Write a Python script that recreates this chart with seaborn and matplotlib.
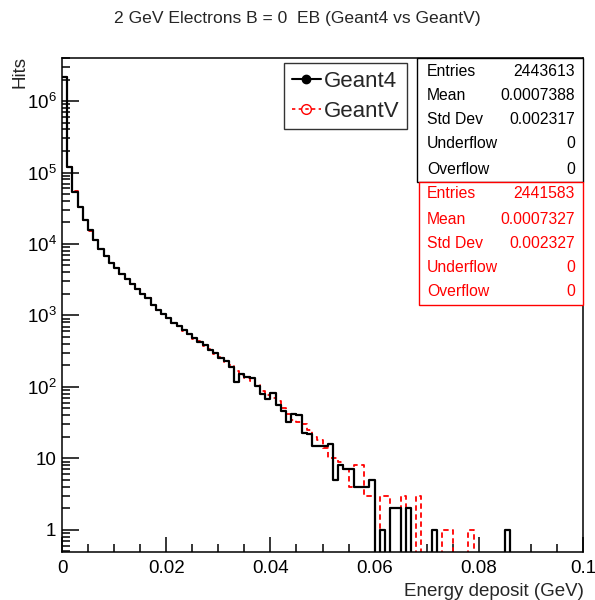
import numpy as np
import pandas as pd
import matplotlib
matplotlib.use('Agg')

import matplotlib.pyplot as plt
import seaborn as sns
from matplotlib.lines import Line2D
from matplotlib.patches import Rectangle
from matplotlib.ticker import FixedLocator, MultipleLocator, FuncFormatter, NullFormatter

# 100 bins of 1 MeV between 0 and 0.1 GeV
bin_width = 0.001
x_range = (0.0, 0.1)

geant4_hits = [
    2190000, 120000, 53700, 33100, 21400, 15500, 11200, 8510, 6760, 5500,
    4570, 3800, 3240, 2750, 2340, 2000, 1740, 1410, 1175, 1050,
    912, 794, 708, 617, 550, 479, 427, 380, 331, 295,
    257, 229, 191, 117, 151, 138, 132, 102, 79, 68,
    83, 56, 46, 32, 42, 40, 23, 22, 15, 15,
    15, 16, 5, 8, 7, 7, 4, 4, 4, 5,
    0, 1, 0, 2, 2, 0, 2, 0, 0, 0,
    0, 1, 0, 0, 0, 0, 0, 0, 0, 0,
    0, 0, 0, 0, 0, 1, 0, 0, 0, 0,
    0, 0, 0, 0, 0, 0, 0, 0, 0, 0,
]

geantv_hits = [
    2200000, 118000, 54500, 32600, 21800, 15200, 11400, 8400, 6850, 5420,
    4620, 3760, 3280, 2710, 2370, 1980, 1760, 1400, 1190, 1040,
    925, 785, 715, 610, 556, 472, 432, 376, 335, 290,
    263, 224, 200, 166, 148, 135, 120, 105, 89, 76,
    69, 63, 50, 42, 35, 32, 30, 25, 20, 18,
    14, 10, 10, 9, 7, 4, 8, 8, 3, 3,
    0, 3, 3, 0, 0, 3, 0, 0, 3, 0,
    0, 0, 0, 1, 1, 0, 0, 0, 1, 0,
    0, 0, 0, 0, 0, 0, 0, 0, 0, 0,
    0, 0, 0, 0, 0, 0, 0, 0, 0, 0,
]

stat_names = ["Entries", "Mean", "Std Dev", "Underflow", "Overflow"]
geant4_stats = ["2443613", "0.0007388", "0.002317", "0", "0"]
geantv_stats = ["2441583", "0.0007327", "0.002327", "0", "0"]

y_decades = [1, 10, 100, 1000, 10000, 100000, 1000000]

sns.set_style("ticks")
plt.rcParams['font.family'] = ['Liberation Sans', 'DejaVu Sans']
plt.rcParams['mathtext.fontset'] = 'custom'
plt.rcParams['mathtext.rm'] = 'Liberation Sans'
plt.rcParams['mathtext.it'] = 'Liberation Sans:italic'

W, H = 595, 600
fig = plt.figure(figsize=(W / 100, H / 100), dpi=100)
ax_l, ax_r, ax_t, ax_b = 62, 583, 58, 552
ax = fig.add_axes([ax_l / W, 1 - ax_b / H, (ax_r - ax_l) / W, (ax_b - ax_t) / H])

centers = x_range[0] + bin_width * (np.arange(len(geant4_hits)) + 0.5)
g4 = pd.DataFrame({"edep": centers, "hits": geant4_hits})
gv = pd.DataFrame({"edep": centers, "hits": geantv_hits})

# GeantV first (dashed red), Geant4 on top (solid black)
sns.histplot(data=gv, x="edep", weights="hits", binwidth=bin_width, binrange=x_range,
             element="step", fill=False, color="red", linestyle=(0, (3, 2)),
             linewidth=1.3, ax=ax)
sns.histplot(data=g4, x="edep", weights="hits", binwidth=bin_width, binrange=x_range,
             element="step", fill=False, color="black", linewidth=1.6, ax=ax)

ax.set_yscale('log')
ax.set_xlim(0, 0.1)
ax.set_ylim(0.49, 4.0e6)
ax.set_xlabel("")
ax.set_ylabel("")
ax.xaxis.label.set_visible(False)
ax.yaxis.label.set_visible(False)

# ROOT-like ticks, only inside the visible range
ax.xaxis.set_major_locator(MultipleLocator(0.02))
ax.xaxis.set_minor_locator(MultipleLocator(0.005))
ax.xaxis.set_major_formatter(FuncFormatter(lambda v, p: "0" if abs(v) < 1e-9 else f"{v:g}"))
minor_y = [m * d for d in [0.1] + y_decades for m in range(2, 10)]
minor_y = [v for v in minor_y if 0.49 <= v <= 4.0e6]
ax.yaxis.set_major_locator(FixedLocator(y_decades))
ax.yaxis.set_minor_locator(FixedLocator(minor_y))
ax.yaxis.set_minor_formatter(NullFormatter())


def ylab(v, p):
    e = int(round(np.log10(v)))
    if e == 0:
        return "1"
    if e == 1:
        return "10"
    return f"$10^{{{e}}}$"


ax.yaxis.set_major_formatter(FuncFormatter(ylab))
ax.tick_params(axis='both', which='both', direction='in', top=False, right=False,
               labelsize=13.5, colors='black', width=1.1)
ax.tick_params(axis='x', which='major', length=11, pad=6)
ax.tick_params(axis='x', which='minor', length=6)
ax.tick_params(axis='y', which='major', length=12, pad=4)
ax.tick_params(axis='y', which='minor', length=6)
for s in ax.spines.values():
    s.set_linewidth(1.1)
    s.set_color('black')

# legend
handles = [
    Line2D([], [], color='black', linewidth=1.5, marker='o', markersize=6),
    Line2D([], [], color='red', linewidth=1.2, linestyle=(0, (2, 2)), marker='o',
           markersize=7, markerfacecolor='none', markeredgecolor='red'),
]
leg = ax.legend(handles, ["Geant4", "GeantV"], loc='upper left',
                bbox_to_anchor=((284 - ax_l) / (ax_r - ax_l), (ax_b - 63) / (ax_b - ax_t)),
                borderaxespad=0, fontsize=16, frameon=True, fancybox=False,
                handlelength=1.3, handletextpad=0.15, borderpad=0.35, labelspacing=0.4)
leg.get_frame().set_edgecolor('black')
leg.get_frame().set_linewidth(1.0)


# stats boxes
def ax_x(px):
    return (px - ax_l) / (ax_r - ax_l)


def ax_y(py):
    return (ax_b - py) / (ax_b - ax_t)


ax.add_patch(Rectangle((ax_x(417), ax_y(182)), ax_x(ax_r) - ax_x(417), ax_y(ax_t) - ax_y(182),
                       transform=ax.transAxes, facecolor='white', edgecolor='black',
                       linewidth=1.0, zorder=5, clip_on=False))
ax.add_patch(Rectangle((ax_x(419), ax_y(305)), ax_x(ax_r) - ax_x(419), ax_y(182) - ax_y(305),
                       transform=ax.transAxes, facecolor='white', edgecolor='red',
                       linewidth=1.0, zorder=5, clip_on=False))

rows_black = [72, 96, 120, 144, 169]
rows_red = [194, 219, 244, 268, 292]
for name, val, y in zip(stat_names, geant4_stats, rows_black):
    ax.text(ax_x(427), ax_y(y), name, transform=ax.transAxes, ha='left', va='center',
            fontsize=11.3, color='black', zorder=6)
    ax.text(ax_x(575), ax_y(y), val, transform=ax.transAxes, ha='right', va='center',
            fontsize=11.3, color='black', zorder=6)
for name, val, y in zip(stat_names, geantv_stats, rows_red):
    ax.text(ax_x(427), ax_y(y), name, transform=ax.transAxes, ha='left', va='center',
            fontsize=11.3, color='red', zorder=6)
    ax.text(ax_x(575), ax_y(y), val, transform=ax.transAxes, ha='right', va='center',
            fontsize=11.3, color='red', zorder=6)

# titles
fig.text(297 / W, 1 - 18 / H, "2 GeV Electrons B = 0  EB (Geant4 vs GeantV)",
         ha='center', va='center', fontsize=12.6)
fig.text(20 / W, 1 - 56 / H, "Hits", rotation=90, ha='center', va='top', fontsize=13.5)
fig.text(584 / W, 1 - 592 / H, "Energy deposit (GeV)", ha='right', va='center', fontsize=13.5)

plt.savefig("out.png", dpi=100)
